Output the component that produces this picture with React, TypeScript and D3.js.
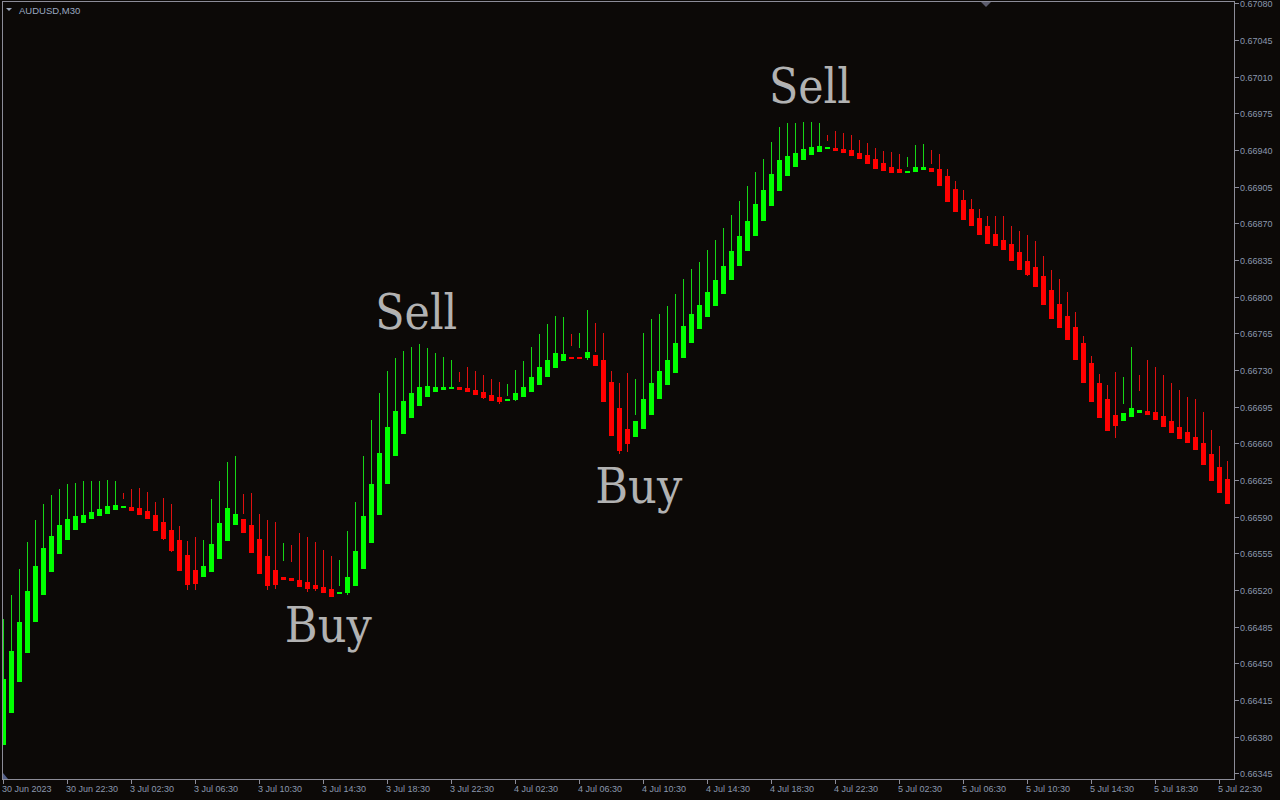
import React from 'react';
import * as d3 from 'd3';

const SYMBOL = 'AUDUSD,M30';

const OPEN = [
  0.66372,0.66403,0.66432,0.66460,0.66489,0.66515,0.66537,0.66554,0.66568,0.66577,
  0.66584,0.66588,0.66591,0.66593,0.66596,0.66598,0.66599,0.66598,0.66595,0.66592,
  0.66585,0.66577,0.66568,0.66553,0.66539,0.66532,0.66537,0.66550,0.66567,0.66582,
  0.66588,0.66582,0.66569,0.66552,0.66539,0.66532,0.66531,0.66530,0.66528,0.66525,
  0.66523,0.66521,0.66516,0.66517,0.66524,0.66540,0.66565,0.66592,0.66621,0.66648,
  0.66669,0.66684,0.66696,0.66704,0.66709,0.66711,0.66712,0.66714,0.66713,0.66711,
  0.66709,0.66706,0.66704,0.66701,0.66701,0.66704,0.66709,0.66716,0.66723,0.66732,
  0.66739,0.66742,0.66742,0.66741,0.66744,0.66740,0.66719,0.66694,0.66674,0.66666,
  0.66674,0.66687,0.66702,0.66716,0.66727,0.66741,0.66756,0.66769,0.66781,0.66791,
  0.66803,0.66816,0.66829,0.66844,0.66858,0.66872,0.66887,0.66901,0.66915,0.66924,
  0.66930,0.66935,0.66938,0.66941,0.66942,0.66941,0.66940,0.66937,0.66935,0.66931,
  0.66928,0.66924,0.66922,0.66919,0.66919,0.66921,0.66923,0.66922,0.66915,0.66903,
  0.66892,0.66884,0.66875,0.66867,0.66860,0.66854,0.66850,0.66843,0.66834,0.66828,
  0.66820,0.66806,0.66793,0.66782,0.66771,0.66756,0.66737,0.66718,0.66702,0.66687,
  0.66681,0.66685,0.66689,0.66691,0.66690,0.66686,0.66681,0.66676,0.66671,0.66666,
  0.66660,0.66650,0.66637,0.66626,
];

const HIGH = [
  0.66492,0.66515,0.66540,0.66566,0.66587,0.66602,0.66611,0.66616,0.66621,0.66622,
  0.66624,0.66624,0.66624,0.66625,0.66624,0.66613,0.66616,0.66617,0.66614,0.66604,
  0.66608,0.66602,0.66581,0.66567,0.66571,0.66568,0.66607,0.66624,0.66642,0.66648,
  0.66612,0.66613,0.66593,0.66587,0.66585,0.66565,0.66563,0.66574,0.66571,0.66566,
  0.66558,0.66552,0.66549,0.66576,0.66604,0.66648,0.66682,0.66708,0.66729,0.66741,
  0.66748,0.66752,0.66755,0.66751,0.66746,0.66742,0.66740,0.66728,0.66733,0.66729,
  0.66725,0.66721,0.66719,0.66717,0.66730,0.66739,0.66752,0.66764,0.66774,0.66782,
  0.66781,0.66764,0.66765,0.66787,0.66775,0.66765,0.66729,0.66718,0.66727,0.66721,
  0.66765,0.66779,0.66783,0.66791,0.66803,0.66817,0.66826,0.66833,0.66845,0.66854,
  0.66866,0.66878,0.66891,0.66906,0.66919,0.66931,0.66948,0.66962,0.66966,0.66966,
  0.66967,0.66967,0.66966,0.66954,0.66958,0.66956,0.66954,0.66950,0.66947,0.66942,
  0.66939,0.66938,0.66936,0.66933,0.66945,0.66946,0.66940,0.66936,0.66922,0.66910,
  0.66902,0.66893,0.66884,0.66877,0.66877,0.66877,0.66867,0.66863,0.66859,0.66853,
  0.66839,0.66825,0.66817,0.66804,0.66785,0.66762,0.66743,0.66726,0.66716,0.66728,
  0.66723,0.66752,0.66725,0.66740,0.66733,0.66725,0.66718,0.66711,0.66704,0.66702,
  0.66690,0.66673,0.66657,0.66643,
];

const LOW = [
  0.66372,0.66403,0.66432,0.66460,0.66489,0.66515,0.66537,0.66554,0.66568,0.66577,
  0.66584,0.66588,0.66591,0.66593,0.66596,0.66607,0.66595,0.66592,0.66588,0.66576,
  0.66568,0.66556,0.66538,0.66520,0.66520,0.66532,0.66537,0.66550,0.66567,0.66582,
  0.66593,0.66555,0.66535,0.66520,0.66521,0.66548,0.66547,0.66523,0.66518,0.66519,
  0.66517,0.66513,0.66524,0.66515,0.66524,0.66540,0.66565,0.66592,0.66621,0.66648,
  0.66669,0.66684,0.66696,0.66704,0.66709,0.66711,0.66712,0.66719,0.66709,0.66706,
  0.66702,0.66700,0.66698,0.66705,0.66700,0.66704,0.66709,0.66716,0.66723,0.66732,
  0.66739,0.66753,0.66751,0.66740,0.66747,0.66699,0.66667,0.66650,0.66652,0.66687,
  0.66674,0.66687,0.66702,0.66716,0.66727,0.66741,0.66756,0.66769,0.66781,0.66791,
  0.66803,0.66816,0.66829,0.66844,0.66858,0.66872,0.66887,0.66901,0.66915,0.66924,
  0.66930,0.66935,0.66938,0.66949,0.66939,0.66937,0.66934,0.66931,0.66927,0.66922,
  0.66920,0.66918,0.66918,0.66924,0.66919,0.66921,0.66927,0.66906,0.66890,0.66881,
  0.66873,0.66867,0.66859,0.66850,0.66848,0.66845,0.66834,0.66825,0.66820,0.66809,
  0.66792,0.66779,0.66770,0.66759,0.66740,0.66718,0.66699,0.66684,0.66672,0.66665,
  0.66698,0.66685,0.66710,0.66687,0.66682,0.66676,0.66670,0.66664,0.66660,0.66654,
  0.66639,0.66624,0.66613,0.66602,
];

const CLOSE = [
  0.66435,0.66462,0.66489,0.66519,0.66543,0.66560,0.66572,0.66582,0.66588,0.66591,
  0.66592,0.66594,0.66597,0.66600,0.66601,0.66600,0.66595,0.66592,0.66588,0.66576,
  0.66569,0.66557,0.66538,0.66525,0.66526,0.66543,0.66564,0.66584,0.66598,0.66593,
  0.66574,0.66555,0.66535,0.66524,0.66525,0.66530,0.66529,0.66523,0.66521,0.66521,
  0.66517,0.66513,0.66518,0.66532,0.66557,0.66591,0.66621,0.66651,0.66676,0.66691,
  0.66700,0.66708,0.66714,0.66715,0.66714,0.66714,0.66714,0.66711,0.66709,0.66706,
  0.66703,0.66700,0.66699,0.66702,0.66708,0.66714,0.66723,0.66733,0.66740,0.66746,
  0.66745,0.66741,0.66741,0.66747,0.66734,0.66699,0.66667,0.66653,0.66659,0.66681,
  0.66702,0.66718,0.66729,0.66740,0.66756,0.66772,0.66783,0.66792,0.66804,0.66816,
  0.66829,0.66844,0.66858,0.66872,0.66888,0.66902,0.66917,0.66930,0.66934,0.66937,
  0.66941,0.66943,0.66944,0.66943,0.66939,0.66937,0.66934,0.66931,0.66927,0.66922,
  0.66920,0.66918,0.66918,0.66920,0.66924,0.66924,0.66919,0.66906,0.66890,0.66881,
  0.66873,0.66867,0.66859,0.66850,0.66848,0.66845,0.66834,0.66825,0.66821,0.66809,
  0.66792,0.66779,0.66770,0.66759,0.66740,0.66718,0.66699,0.66684,0.66672,0.66677,
  0.66689,0.66694,0.66692,0.66687,0.66682,0.66676,0.66670,0.66664,0.66660,0.66654,
  0.66639,0.66624,0.66613,0.66602,
];

// candles whose wick colour differs from the body colour
const WICK_FLIP = [15, 35, 72, 103, 142];

const TIME_STEP = 8;
const TIME_LABELS = [
  '30 Jun 2023', '30 Jun 22:30', '3 Jul 02:30', '3 Jul 06:30', '3 Jul 10:30',
  '3 Jul 14:30', '3 Jul 18:30', '3 Jul 22:30', '4 Jul 02:30', '4 Jul 06:30',
  '4 Jul 10:30', '4 Jul 14:30', '4 Jul 18:30', '4 Jul 22:30', '5 Jul 02:30',
  '5 Jul 06:30', '5 Jul 10:30', '5 Jul 14:30', '5 Jul 18:30', '5 Jul 22:30',
];

const PRICE_TICKS = [
  0.6708, 0.67045, 0.6701, 0.66975, 0.6694, 0.66905, 0.6687, 0.66835, 0.668, 0.66765,
  0.6673, 0.66695, 0.6666, 0.66625, 0.6659, 0.66555, 0.6652, 0.66485, 0.6645, 0.66415,
  0.6638, 0.66345,
];

const SIGNAL_TEXT = ['Buy', 'Sell', 'Buy', 'Sell'];
const SIGNAL_INDEX = [40.6, 51.6, 79.4, 100.8];
const SIGNAL_PRICE = [0.66470, 0.66769, 0.66603, 0.66985];

const W = 1280;
const H = 800;
const BG = '#0c0907';
const AXIS = '#8c8c98';
const LABEL = '#8b98ae';
const BULL = '#00ff00';
const BEAR = '#ff0000';
const BULL_WICK = '#16d616';
const BEAR_WICK = '#e01010';

const PLOT_L = 2.5;
const PLOT_T = 1.5;
const PLOT_R = 1234.5;
const PLOT_B = 779.5;

export default function App() {
  const n = OPEN.length;
  const x = d3.scaleLinear().domain([0, n - 1]).range([3.5, 3.5 + 8 * (n - 1)]);
  const y = d3
    .scaleLinear()
    .domain([PRICE_TICKS[PRICE_TICKS.length - 1], PRICE_TICKS[0]])
    .range([773.33, 3.33]);

  const flip = new Set(WICK_FLIP);
  const font = '"Liberation Sans", Arial, sans-serif';

  return (
    <svg
      width={W}
      height={H}
      viewBox={`0 0 ${W} ${H}`}
      style={{ position: 'fixed', left: 0, top: 0, display: 'block' }}
    >
      <defs>
        <clipPath id="plot">
          <rect x={3} y={2} width={PLOT_R - 3.5} height={PLOT_B - 2.5} />
        </clipPath>
      </defs>
      <rect x={0} y={0} width={W} height={H} fill={BG} />

      <g clipPath="url(#plot)" shapeRendering="crispEdges">
        {OPEN.map((o, i) => {
          const c = CLOSE[i];
          const bull = c >= o;
          const wickBull = flip.has(i) ? !bull : bull;
          const cx = x(i);
          const yTop = Math.round(y(Math.max(o, c)));
          const yBot = Math.round(y(Math.min(o, c)));
          const hgt = Math.max(2, yBot - yTop);
          return (
            <g key={i}>
              <line
                x1={cx}
                x2={cx}
                y1={Math.round(y(HIGH[i]))}
                y2={Math.round(y(LOW[i]))}
                stroke={wickBull ? BULL_WICK : BEAR_WICK}
                strokeWidth={1}
              />
              <rect
                x={cx - 2.5}
                y={yTop}
                width={5}
                height={hgt}
                fill={bull ? BULL : BEAR}
              />
            </g>
          );
        })}
      </g>

      {SIGNAL_TEXT.map((t, k) => (
        <text
          key={k}
          x={x(SIGNAL_INDEX[k])}
          y={y(SIGNAL_PRICE[k])}
          textAnchor="middle"
          fontFamily='"DejaVu Serif", serif'
          fontSize={48}
          fill="#b2b2b2"
          textLength={t === 'Sell' ? 82 : 87}
          lengthAdjust="spacingAndGlyphs"
        >
          {t}
        </text>
      ))}

      <g shapeRendering="crispEdges" stroke={AXIS} strokeWidth={1} fill="none">
        <path d={`M${PLOT_L},${PLOT_T}H${PLOT_R}V${PLOT_B}H${PLOT_L}Z`} />
        {PRICE_TICKS.map((p, k) => {
          const yy = Math.round(y(p)) + 0.5;
          return <line key={k} x1={PLOT_R} x2={PLOT_R + 4} y1={yy} y2={yy} />;
        })}
        {TIME_LABELS.map((_, k) => {
          const xx = x(k * TIME_STEP);
          return <line key={k} x1={xx} x2={xx} y1={PLOT_B} y2={PLOT_B + 4} />;
        })}
      </g>

      {PRICE_TICKS.map((p, k) => (
        <text
          key={k}
          x={1240}
          y={Math.round(y(p)) + 4}
          fontFamily={font}
          fontSize={9}
          fill={LABEL}
        >
          {p.toFixed(5)}
        </text>
      ))}
      {TIME_LABELS.map((t, k) => (
        <text
          key={k}
          x={x(k * TIME_STEP) - 1.5}
          y={792}
          fontFamily={font}
          fontSize={9}
          fill={LABEL}
        >
          {t}
        </text>
      ))}

      <polygon points="6,8 12,8 9,11" fill="#9aa6bb" />
      <text x={19} y={14} fontFamily={font} fontSize={9.5} fill="#9aa8c0">
        {SYMBOL}
      </text>
      <polygon points="981,2 991,2 986,7" fill="#5c5c6c" />
      <polygon points="3,773 3,779 8,779" fill="#55618a" />
    </svg>
  );
}
